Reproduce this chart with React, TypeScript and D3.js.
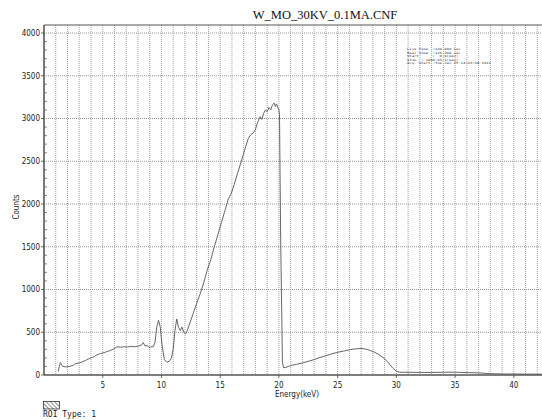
import React from "react";
import * as d3 from "d3";

const energy: number[] = [
  1.2, 1.3, 1.4, 1.5, 1.6, 1.8, 2.0, 2.2, 2.5, 2.7, 3.0, 3.3, 3.6, 3.9, 4.2, 4.5, 4.8, 5.1, 5.4, 5.7,
  6.0, 6.2, 6.5, 6.8, 7.1, 7.4, 7.7, 8.0, 8.3, 8.45, 8.6, 8.8, 8.95, 9.1, 9.3, 9.45, 9.6, 9.75, 9.9,
  10.05, 10.25, 10.45, 10.65, 10.85, 11.0, 11.15, 11.3, 11.45, 11.6, 11.75, 11.9, 12.05, 12.2, 12.4,
  12.7, 13.0, 13.3, 13.6, 13.9, 14.2, 14.5, 14.8, 15.1, 15.4, 15.7, 15.9, 16.2, 16.5, 16.8, 17.1,
  17.4, 17.6, 17.8, 18.0, 18.2, 18.4, 18.55, 18.7, 18.85, 19.0, 19.15, 19.3, 19.45, 19.6, 19.7,
  19.8, 19.9, 20.0, 20.05, 20.15, 20.3, 20.4, 20.6, 21.0, 21.5, 22.0, 22.5, 23.0, 23.5, 24.0, 24.5,
  25.0, 25.5, 26.0, 26.5, 27.0, 27.5, 28.0, 28.5, 29.0, 29.4, 29.7, 30.0, 30.3, 31, 32, 33, 34, 35,
  36, 37, 38, 39, 40, 41, 42, 42.4,
];
const counts: number[] = [
  40, 100, 145, 120, 100, 95, 98, 100, 115, 135, 140, 155, 175, 195, 210, 235, 250, 262, 275, 290,
  310, 330, 325, 330, 328, 335, 330, 338, 350, 380, 340, 345, 320, 330, 330, 380, 560, 640, 560,
  350, 180, 150, 160, 200, 300, 520, 655, 560, 520, 560, 500, 480, 520, 600,
  720, 840, 950, 1080, 1230, 1350, 1500, 1640, 1780, 1920, 2060, 2110, 2230, 2370, 2500, 2640,
  2770, 2810, 2830, 2870, 2960, 3020, 2990, 3060, 3100, 3080, 3130, 3100, 3160, 3180, 3140,
  3170, 3130, 3100, 3050, 1600, 150, 85, 90, 110, 125, 140, 160, 180, 205, 225, 248,
  265, 280, 295, 305, 312, 300, 275, 240, 190, 130, 80, 45, 32, 32, 30, 30, 32, 33,
  28, 25, 15, 12, 12, 10, 10, 10,
];
const xTicks: number[] = [5, 10, 15, 20, 25, 30, 35, 40];
const yTicks: number[] = [0, 500, 1000, 1500, 2000, 2500, 3000, 3500, 4000];
const infoLines: string[] = [
  "Live Time  :120.000 sec",
  "Real Time  :126.290 sec",
  "Start      :  0.0(kev)",
  "Stop  : 1000:43.1(kev)",
  "Acq. Start :Tue Jan 25 14:43:48 2011",
];
const title = "W_MO_30KV_0.1MA.CNF";

const W = 542;
const H = 420;

export default function App() {
  const x = d3.scaleLinear().domain([0, 42.4]).range([44, 542]);
  const y = d3.scaleLinear().domain([0, 4000]).range([375, 33]);
  const top = 25;
  const bottom = y(0);
  const left = x(0);
  const narrow = "'Liberation Sans Narrow', 'DejaVu Sans Condensed', 'Arial Narrow', sans-serif";
  const mono = "'DejaVu Sans Mono', 'Liberation Mono', monospace";

  const pts = energy.map((e, i) => [e, counts[i]] as [number, number]);
  const line = d3
    .line<[number, number]>()
    .x((d) => x(d[0]))
    .y((d) => y(d[1]));

  const vGrid = d3.range(1, 43);
  const yMinor = d3.range(100, 4100, 100).filter((v) => v % 500 !== 0);

  return (
    <svg
      width={W}
      height={H}
      style={{ position: "absolute", left: 0, top: 0, background: "#fff" }}
    >
      <rect x={0} y={0} width={W} height={H} fill="#fff" />
      <text
        x={325}
        y={19}
        textAnchor="middle"
        fontFamily="'Liberation Serif', 'Times New Roman', serif"
        fontSize={12.5}
        fill="#111"
      >
        {title}
      </text>
      {/* grid */}
      {vGrid.map((v) => (
        <line
          key={"vg" + v}
          x1={x(v)}
          x2={x(v)}
          y1={top}
          y2={bottom}
          stroke="#8a8a8a"
          strokeWidth={0.8}
          strokeDasharray="1,1"
        />
      ))}
      {yTicks
        .filter((v) => v > 0)
        .map((v) => (
          <line
            key={"hg" + v}
            x1={left}
            x2={W}
            y1={y(v)}
            y2={y(v)}
            stroke="#8a8a8a"
            strokeWidth={0.9}
            strokeDasharray="1,1"
          />
        ))}
      {/* frame */}
      <line x1={left} x2={W} y1={top} y2={top} stroke="#555" strokeWidth={1} />
      <line x1={left} x2={left} y1={top} y2={bottom} stroke="#333" strokeWidth={1.3} />
      <line x1={left} x2={W} y1={bottom} y2={bottom} stroke="#555" strokeWidth={1.3} />
      {/* y ticks */}
      {yTicks.map((v) => (
        <g key={"yt" + v}>
          <line x1={left - 3} x2={left} y1={y(v)} y2={y(v)} stroke="#444" strokeWidth={0.8} />
          <text
            x={left - 4}
            y={y(v) + 2.8}
            textAnchor="end"
            fontFamily={narrow}
            fontSize={8}
            fill="#222"
          >
            {v}
          </text>
        </g>
      ))}
      {yMinor.map((v) => (
        <line
          key={"ym" + v}
          x1={left}
          x2={left + 3}
          y1={y(v)}
          y2={y(v)}
          stroke="#555"
          strokeWidth={0.7}
        />
      ))}
      {/* x ticks */}
      {xTicks.map((v) => (
        <g key={"xt" + v}>
          <line x1={x(v)} x2={x(v)} y1={bottom} y2={bottom + 3} stroke="#444" strokeWidth={0.8} />
          <text
            x={x(v)}
            y={bottom + 13}
            textAnchor="middle"
            fontFamily={narrow}
            fontSize={8}
            fill="#222"
          >
            {v}
          </text>
        </g>
      ))}
      <text
        x={297}
        y={397}
        textAnchor="middle"
        fontFamily={narrow}
        fontSize={8}
        fill="#222"
      >
        Energy(keV)
      </text>
      <text
        transform={`translate(19,207) rotate(-90)`}
        textAnchor="middle"
        fontFamily={narrow}
        fontSize={8}
        fill="#222"
      >
        Counts
      </text>
      {/* spectrum */}
      <path d={line(pts) || ""} fill="none" stroke="#555" strokeWidth={0.9} />
      {/* info box */}
      {infoLines.map((t, i) => (
        <text
          key={"info" + i}
          x={407}
          y={50 + i * 3.5}
          fontFamily={mono}
          fontSize={2.9}
          fill="#333"
          textLength={t.length * 2.33}
          lengthAdjust="spacingAndGlyphs"
          style={{ whiteSpace: "pre" }}
        >
          {t}
        </text>
      ))}
      {/* ROI legend */}
      <defs>
        <pattern id="hatch" width="3" height="3" patternUnits="userSpaceOnUse" patternTransform="rotate(-45)">
          <line x1={0} y1={0} x2={0} y2={3} stroke="#333" strokeWidth={1.1} />
        </pattern>
      </defs>
      <rect x={43.5} y={401.5} width={16} height={7.5} fill="url(#hatch)" stroke="#333" strokeWidth={0.8} />
      <text x={43} y={417} fontFamily={mono} fontSize={8} fill="#222" style={{ whiteSpace: "pre" }}>
        ROI Type: 1
      </text>
    </svg>
  );
}
